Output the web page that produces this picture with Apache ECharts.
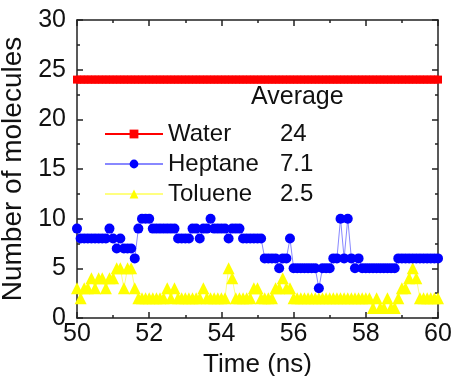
<!DOCTYPE html>
<html>
<head>
<meta charset="utf-8">
<script src="https://cdn.jsdelivr.net/npm/echarts@6/dist/echarts.min.js"></script>
<style>html,body{margin:0;padding:0;background:#fff}#c{width:454px;height:376px}</style>
</head>
<body>
<div id="c"></div>
<script>
const times = [
50.0,50.1,50.2,50.3,50.4,50.5,50.6,50.7,50.8,50.9,
51.0,51.1,51.2,51.3,51.4,51.5,51.6,51.7,51.8,51.9,
52.0,52.1,52.2,52.3,52.4,52.5,52.6,52.7,52.8,52.9,
53.0,53.1,53.2,53.3,53.4,53.5,53.6,53.7,53.8,53.9,
54.0,54.1,54.2,54.3,54.4,54.5,54.6,54.7,54.8,54.9,
55.0,55.1,55.2,55.3,55.4,55.5,55.6,55.7,55.8,55.9,
56.0,56.1,56.2,56.3,56.4,56.5,56.6,56.7,56.8,56.9,
57.0,57.1,57.2,57.3,57.4,57.5,57.6,57.7,57.8,57.9,
58.0,58.1,58.2,58.3,58.4,58.5,58.6,58.7,58.8,58.9,
59.0,59.1,59.2,59.3,59.4,59.5,59.6,59.7,59.8,59.9,
60.0];
const water = [
24,24,24,24,24,24,24,24,24,24,
24,24,24,24,24,24,24,24,24,24,
24,24,24,24,24,24,24,24,24,24,
24,24,24,24,24,24,24,24,24,24,
24,24,24,24,24,24,24,24,24,24,
24,24,24,24,24,24,24,24,24,24,
24,24,24,24,24,24,24,24,24,24,
24,24,24,24,24,24,24,24,24,24,
24,24,24,24,24,24,24,24,24,24,
24,24,24,24,24,24,24,24,24,24,
24];
const heptane = [
9,8,8,8,8,8,8,8,8,9,
8,7,8,7,7,7,6,9,10,10,
10,9,9,9,9,9,9,9,8,8,
8,8,9,9,8,9,9,10,9,9,
9,9,8,9,9,9,8,8,8,8,
8,8,6,6,6,6,5,6,6,8,
5,5,5,5,5,5,5,3,5,5,
5,6,6,10,6,10,6,5,6,5,
5,5,5,5,5,5,5,5,5,6,
6,6,6,6,6,6,6,6,6,6,
6];
const toluene = [
3,2,3,3,4,3,4,4,3,4,
4,5,5,3,5,5,3,2,2,2,
2,2,2,2,2,3,2,3,2,2,
2,2,2,2,2,3,2,2,2,2,
2,2,5,4,2,2,2,2,2,3,
3,2,2,2,2,3,3,4,3,3,
2,2,2,2,2,2,2,2,2,2,
2,2,2,2,2,2,2,2,2,2,
2,2,1,2,1,1,2,1,1,2,
3,3,4,5,4,2,2,2,2,2,
2];
const seriesNames = ['Water', 'Heptane', 'Toluene'];
const averages = {Water: '24', Heptane: '7.1', Toluene: '2.5'};
const legendTitle = 'Average';
const xTicks = {min: 50, max: 60, interval: 2};
const yTicks = {min: 0, max: 30, interval: 5};

function pairs(ys) { return ys.map((v, i) => [times[i], v]); }

const FONT = 'Liberation Sans, Arial, sans-serif';
const axisCommon = {
  axisLine: {show: true, onZero: false, lineStyle: {color: '#222', width: 1.5}},
  axisTick: {show: true, inside: true, length: 6, lineStyle: {color: '#222', width: 1.5}},
  minorTick: {show: true, splitNumber: 2, length: 3, lineStyle: {color: '#222', width: 1.5}},
  splitLine: {show: false}
};

const chart = echarts.init(document.getElementById('c'), null, {renderer: 'canvas'});
chart.setOption({
  animation: false,
  backgroundColor: '#fff',
  grid: {left: 77, right: 16, top: 20, bottom: 58, containLabel: false, outerBoundsMode: 'none'},
  xAxis: [
    Object.assign({type: 'value', min: xTicks.min, max: xTicks.max, interval: xTicks.interval,
      name: 'Time (ns)', nameLocation: 'middle', nameGap: 32,
      nameTextStyle: {fontFamily: FONT, fontSize: 26, color: '#111'},
      axisLabel: {fontFamily: FONT, fontSize: 25, color: '#111', margin: 4}}, axisCommon),
    Object.assign({type: 'value', position: 'top', min: xTicks.min, max: xTicks.max, interval: xTicks.interval,
      axisLabel: {show: false}}, axisCommon)
  ],
  yAxis: [
    Object.assign({type: 'value', min: yTicks.min, max: yTicks.max, interval: yTicks.interval,
      name: 'Number of molecules', nameLocation: 'middle', nameGap: 46,
      nameTextStyle: {fontFamily: FONT, fontSize: 28, color: '#111'},
      axisLabel: {fontFamily: FONT, fontSize: 25, color: '#111', margin: 11}}, axisCommon),
    Object.assign({type: 'value', position: 'right', min: yTicks.min, max: yTicks.max, interval: yTicks.interval,
      axisLabel: {show: false}}, axisCommon)
  ],
  legend: {
    data: seriesNames,
    orient: 'vertical', left: 99, top: 117,
    itemWidth: 58, itemHeight: 11, itemGap: 6,
    formatter: name => '{n|' + name + '}{v|' + averages[name] + '}',
    textStyle: {fontFamily: FONT, fontSize: 24, color: '#111',
      rich: {n: {fontFamily: FONT, fontSize: 24, color: '#111', width: 112},
             v: {fontFamily: FONT, fontSize: 24, color: '#111'}}}
  },
  graphic: [{type: 'text', left: 251, top: 85,
    style: {text: legendTitle, font: '25px ' + FONT, fill: '#111'}}],
  series: [
    {name: 'Toluene', type: 'line', data: pairs(toluene), symbol: 'triangle', symbolSize: 12,
     itemStyle: {color: '#ffff00'}, lineStyle: {color: '#ffff80', width: 1}, z: 2},
    {name: 'Heptane', type: 'line', data: pairs(heptane), symbol: 'circle', symbolSize: 10,
     itemStyle: {color: '#0000ff'}, lineStyle: {color: '#8888ff', width: 1}, z: 3},
    {name: 'Water', type: 'line', data: pairs(water), symbol: 'rect', symbolSize: 8,
     itemStyle: {color: '#ff0000'}, lineStyle: {color: '#ff0000', width: 2}, z: 4}
  ]
});
</script>
</body>
</html>
